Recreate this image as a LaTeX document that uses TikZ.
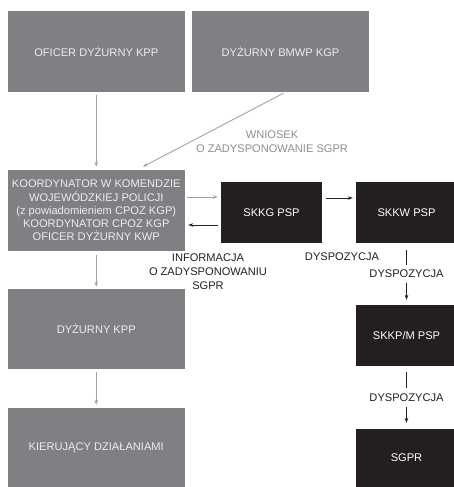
\documentclass[tikz,border=0pt]{standalone}
\usepackage{fontspec}
\setmainfont{Liberation Sans}
\usepackage{tikz}
\usetikzlibrary{arrows.meta}

\definecolor{boxgray}{HTML}{808084}
\definecolor{boxblack}{HTML}{231F20}
\definecolor{linegray}{HTML}{A2A2A4}
\definecolor{labelgray}{HTML}{8E8E90}

\begin{document}
\begin{tikzpicture}[x=1pt,y=-1pt,
  graybox/.style={fill=boxgray,text=white!93!black,align=center,inner sep=0pt,
    minimum width=177.5pt,font=\fontsize{11.1}{13.2}\selectfont},
  blackbox/.style={fill=boxblack,text=white,align=center,inner sep=0pt,
    minimum width=101pt,minimum height=61pt,font=\fontsize{11.1}{13}\selectfont},
  grayarr/.style={draw=linegray,line width=0.9pt,-{Stealth[length=5pt,width=3.6pt]}},
  blackarr/.style={draw=boxblack,line width=0.9pt,-{Stealth[length=5pt,width=3.6pt]}},
  lbl/.style={font=\fontsize{11.1}{14}\selectfont,align=center,inner sep=0pt,text=boxblack}]
  \useasboundingbox (0,0) rectangle (453,487);
  \node (okpp) at (96.25,51.5) [graybox,minimum height=81pt] {OFICER DYŻURNY KPP};
  \node (bmwp) at (280.5,51.5) [graybox,minimum height=81pt] {DYŻURNY BMWP KGP};
  \node (koord) at (96.25,210.5) [graybox,minimum height=81pt] {KOORDYNATOR W KOMENDZIE\\WOJEWÓDZKIEJ POLICJI\\(z powiadomieniem CPOZ KGP)\\KOORDYNATOR CPOZ KGP\\OFICER DYŻURNY KWP};
  \node (dkpp) at (96.25,329) [graybox,minimum height=80pt] {DYŻURNY KPP};
  \node (kier) at (96.25,447.5) [graybox,minimum height=79pt] {KIERUJĄCY DZIAŁANIAMI};
  \node (skkg) at (271.5,212.5) [blackbox] {SKKG PSP};
  \node (skkw) at (406.5,212.5) [blackbox] {SKKW PSP};
  \node (skkp) at (406.5,335.5) [blackbox] {SKKP/M PSP};
  \node (sgpr) at (406.5,458) [blackbox,minimum height=58pt] {SGPR};
  \node (wniosek) at (272,142) [lbl,text=labelgray] {WNIOSEK\\O ZADYSPONOWANIE SGPR};
  \node (info) at (208,272) [lbl] {INFORMACJA\\O ZADYSPONOWANIU\\SGPR};
  \node (dysp) at (342,257) [lbl] {DYSPOZYCJA};
  \draw[grayarr,shorten <=3pt,shorten >=3pt] (okpp) -- (koord);
  \draw[grayarr] ([xshift=3pt,yshift=-1pt]bmwp.south) -- ([xshift=46.5pt,yshift=3pt]koord.north);
  \draw[grayarr] ([xshift=2pt,yshift=13.5pt]koord.east) -- ([xshift=-3pt,yshift=15.5pt]skkg.west);
  \draw[blackarr] ([xshift=-3pt,yshift=-12.5pt]skkg.west) -- ([xshift=3pt,yshift=-14.5pt]koord.east);
  \draw[blackarr] ([xshift=4pt,yshift=14.5pt]skkg.east) -- ([xshift=-3pt,yshift=14.5pt]skkw.west);
  \draw[blackarr,shorten <=7pt,shorten >=5pt] (skkw) -- node[lbl,fill=white,inner xsep=2pt,inner ysep=5pt] (dysp2) {DYSPOZYCJA} (skkp);
  \draw[blackarr,shorten <=6pt,shorten >=6pt] (skkp) -- node[lbl,fill=white,inner xsep=2pt,inner ysep=6pt] (dysp3) {DYSPOZYCJA} (sgpr);
  \draw[grayarr,shorten <=4pt,shorten >=2pt] (koord) -- (dkpp);
  \draw[grayarr,shorten <=3pt,shorten >=3pt] (dkpp) -- (kier);
\end{tikzpicture}
\end{document}
